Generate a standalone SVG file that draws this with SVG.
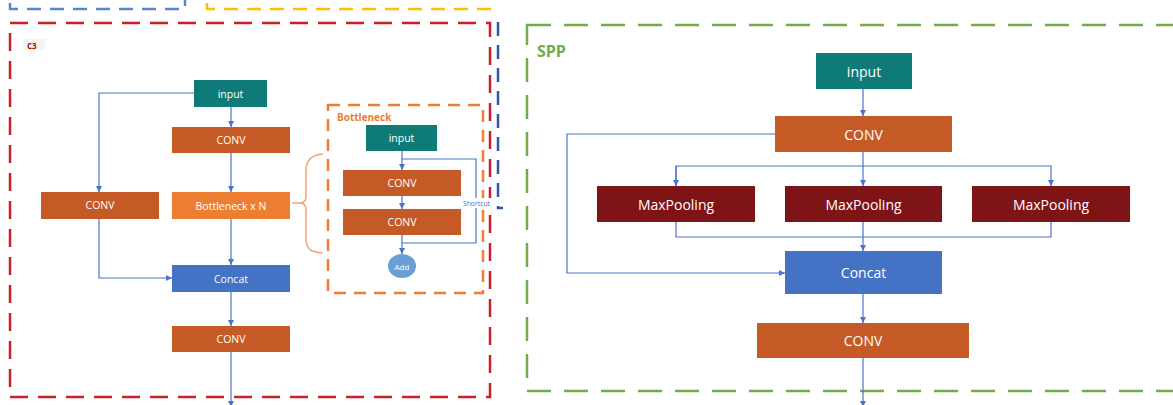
<svg xmlns="http://www.w3.org/2000/svg" width="1173" height="405" viewBox="0 0 1173 405">
  <style>
    .lbl { font-family: "Open Sans", "Noto Sans", "Liberation Sans", sans-serif; fill: #ffffff; text-anchor: middle; dominant-baseline: central; }
    .s { font-size: 10.5px; }
    .m { font-size: 14px; }
    .teal { fill: #0f7b78; }
    .conv { fill: #c55a26; }
    .bneck { fill: #ed7d31; }
    .cat { fill: #4472c4; }
    .pool { fill: #7f1416; }
    .wire { fill: none; stroke: #4a74c6; stroke-width: 1.2; }
    .frame { fill: none; stroke-width: 2.5; }
  </style>
  <defs>
    <marker id="arr" viewBox="0 0 10 10" refX="10" refY="5" markerWidth="7" markerHeight="6" markerUnits="userSpaceOnUse" orient="auto">
      <path d="M0,0 L10,5 L0,10 Z" fill="#4a74c6"/>
    </marker>
  </defs>
  <rect width="1173" height="405" fill="#ffffff"/>

  <!-- frames -->
  <g id="frames">
    <path class="frame" d="M10,3 L10,9 L185,9 L185,0" stroke="#5b84d0" stroke-dasharray="14 9"/>
    <path class="frame" d="M207,3 L207,9 L500,9" stroke="#ffc000" stroke-dasharray="14 9"/>
    <path class="frame" d="M498,22 L498,208 L503,208" stroke="#2f55a4" stroke-dasharray="14 9"/>
    <rect id="c3-frame" class="frame" x="10" y="23" width="480" height="374" stroke="#c8202a" stroke-dasharray="18 10"/>
    <rect id="bottleneck-frame" class="frame" x="328" y="105" width="155" height="188" stroke="#ed7d31" stroke-dasharray="12 8"/>
    <rect id="spp-frame" class="frame" x="527" y="25" width="680" height="366" stroke="#70ad47" stroke-dasharray="24 13"/>
  </g>

  <!-- titles -->
  <g id="titles">
    <rect x="23" y="39" width="22" height="11" fill="#f4f4f4"/>
    <text x="27" y="45" font-family="'Open Sans', 'Liberation Sans', sans-serif" font-size="8" font-weight="bold" fill="#c00000" dominant-baseline="central">C3</text>
    <text x="337" y="117" font-family="'Open Sans', 'Liberation Sans', sans-serif" font-size="10" font-weight="bold" fill="#ed7d31" dominant-baseline="central">Bottleneck</text>
    <text x="537" y="51" font-family="'Open Sans', 'Liberation Sans', sans-serif" font-size="16" font-weight="bold" fill="#70ad47" dominant-baseline="central">SPP</text>
  </g>

  <!-- connectors -->
  <g id="connectors">
    <!-- C3 -->
    <path class="wire" d="M194,93 L99,93 L99,192" marker-end="url(#arr)"/>
    <path class="wire" d="M231,107 L231,127" marker-end="url(#arr)"/>
    <path class="wire" d="M231,153 L231,192" marker-end="url(#arr)"/>
    <path class="wire" d="M231,219 L231,265" marker-end="url(#arr)"/>
    <path class="wire" d="M99,219 L99,278 L172,278" marker-end="url(#arr)"/>
    <path class="wire" d="M231,292 L231,326" marker-end="url(#arr)"/>
    <path class="wire" d="M231,352 L231,407" marker-end="url(#arr)"/>
    <!-- brace to bottleneck detail -->
    <path d="M292,203 L300,203 M323,154 C311,155 306,160 306,172 L306,196 Q306,203 300,203 Q306,203 306,210 L306,238 C306,250 311,252 323,253" fill="none" stroke="#f2a477" stroke-width="1.5"/>
    <!-- Bottleneck -->
    <path class="wire" d="M402,151 L402,170" marker-end="url(#arr)"/>
    <path class="wire" d="M402,159 L476,159 L476,243 L402,243"/>
    <path class="wire" d="M402,196 L402,209" marker-end="url(#arr)"/>
    <path class="wire" d="M402,235 L402,254" marker-end="url(#arr)"/>
    <!-- SPP -->
    <path class="wire" d="M863,89 L863,116" marker-end="url(#arr)"/>
    <path class="wire" d="M775,134 L567,134 L567,273 L785,273" marker-end="url(#arr)"/>
    <path class="wire" d="M863,152 L863,186" marker-end="url(#arr)"/>
    <path class="wire" d="M676,186 L676,166 L1051,166 L1051,186" marker-end="url(#arr)"/>
    <path class="wire" d="M676,166 L676,186" marker-end="url(#arr)"/>
    <path class="wire" d="M676,222 L676,237 L1051,237 L1051,222"/>
    <path class="wire" d="M863,222 L863,251" marker-end="url(#arr)"/>
    <path class="wire" d="M863,294 L863,323" marker-end="url(#arr)"/>
    <path class="wire" d="M863,358 L863,407" marker-end="url(#arr)"/>
  </g>

  <!-- C3 nodes -->
  <g id="c3-input"><rect class="teal" x="194" y="80" width="73" height="27"/><text class="lbl s" x="230.5" y="93.5">input</text></g>
  <g id="c3-conv1"><rect class="conv" x="172" y="127" width="118" height="26"/><text class="lbl s" x="231" y="140">CONV</text></g>
  <g id="c3-conv-side"><rect class="conv" x="41" y="192" width="118" height="27"/><text class="lbl s" x="100" y="205">CONV</text></g>
  <g id="c3-bottleneck"><rect class="bneck" x="172" y="192" width="118" height="27"/><text class="lbl s" x="231" y="206">Bottleneck x N</text></g>
  <g id="c3-concat"><rect class="cat" x="172" y="265" width="118" height="27"/><text class="lbl s" x="231" y="278.5">Concat</text></g>
  <g id="c3-conv2"><rect class="conv" x="172" y="326" width="118" height="26"/><text class="lbl s" x="231" y="339">CONV</text></g>

  <!-- Bottleneck nodes -->
  <g id="bn-input"><rect class="teal" x="366" y="125" width="71" height="26"/><text class="lbl s" x="401.5" y="138">input</text></g>
  <g id="bn-conv1"><rect class="conv" x="343" y="170" width="118" height="26"/><text class="lbl s" x="402" y="183">CONV</text></g>
  <g id="bn-conv2"><rect class="conv" x="343" y="209" width="118" height="26"/><text class="lbl s" x="402" y="222">CONV</text></g>
  <g id="bn-add"><ellipse cx="402" cy="266" rx="14" ry="12" fill="#6a9fd4"/><text class="lbl" x="402" y="266" font-size="8">Add</text></g>
  <g id="bn-shortcut-label"><rect x="461" y="198" width="31" height="10" fill="#ffffff"/><text x="476.5" y="203" font-family="'Open Sans', 'Liberation Sans', sans-serif" font-size="6.8" fill="#4472c4" text-anchor="middle" dominant-baseline="central">Shortcut</text></g>

  <!-- SPP nodes -->
  <g id="spp-input"><rect class="teal" x="816" y="53" width="96" height="36"/><text class="lbl m" x="864" y="71">input</text></g>
  <g id="spp-conv1"><rect class="conv" x="775" y="116" width="177" height="36"/><text class="lbl m" x="863.5" y="134">CONV</text></g>
  <g id="spp-pool1"><rect class="pool" x="597" y="186" width="158" height="36"/><text class="lbl m" x="676" y="204">MaxPooling</text></g>
  <g id="spp-pool2"><rect class="pool" x="785" y="186" width="157" height="36"/><text class="lbl m" x="863.5" y="204">MaxPooling</text></g>
  <g id="spp-pool3"><rect class="pool" x="972" y="186" width="158" height="36"/><text class="lbl m" x="1051" y="204">MaxPooling</text></g>
  <g id="spp-concat"><rect class="cat" x="785" y="251" width="157" height="43"/><text class="lbl m" x="863.5" y="272.5">Concat</text></g>
  <g id="spp-conv2"><rect class="conv" x="757" y="323" width="212" height="35"/><text class="lbl m" x="863" y="340.5">CONV</text></g>
</svg>
